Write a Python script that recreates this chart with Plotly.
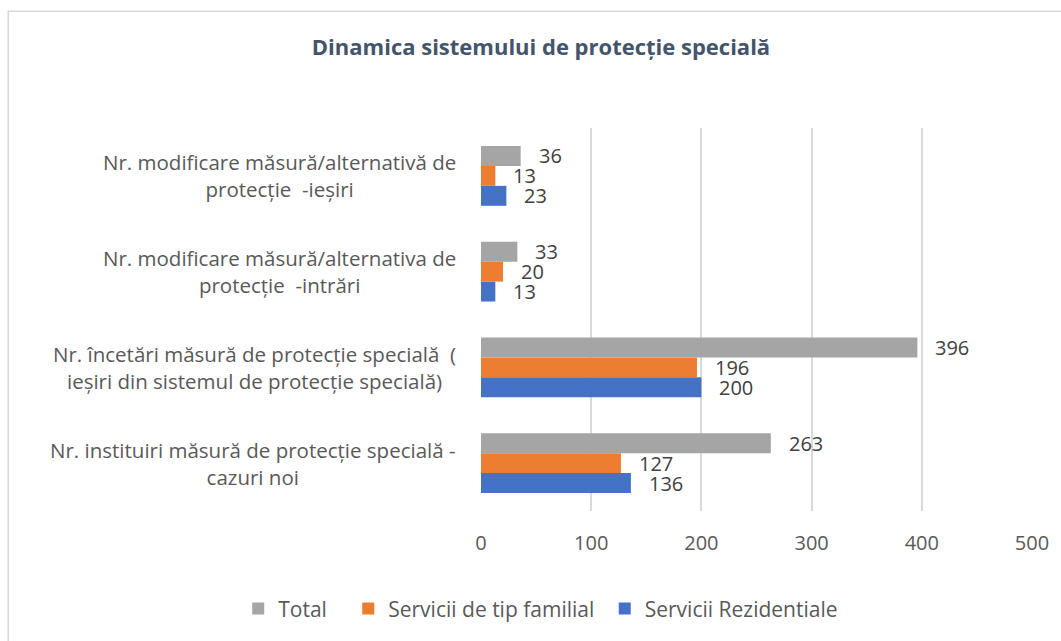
import plotly.graph_objects as go

categories = [
    "Nr. instituiri măsură de protecție specială -<br>cazuri noi",
    "Nr. încetări măsură de protecție specială  (<br>ieșiri din sistemul de protecție specială)",
    "Nr. modificare măsură/alternativa de<br>protecție  -intrări",
    "Nr. modificare măsură/alternativă de<br>protecție  -ieșiri",
]
cat_keys = ["instituiri", "incetari", "intrari", "iesiri"]

total = [263, 396, 33, 36]
familial = [127, 196, 20, 13]
rezidentiale = [136, 200, 13, 23]

x_ticks = [0, 100, 200, 300, 400, 500]

FONT = "Open Sans"
TXT = "#595959"
LBL = "#404040"
FS = 20
NB = "\u00a0"

fig = go.Figure()
# order: first trace drawn lowest in each group
series = [
    ("Servicii Rezidentiale", "Servicii Rezidentiale", rezidentiale, "#4472C4", -20),
    ("Servicii de tip familial", "Servicii de tip familial" + NB, familial, "#ED7D31", 0),
    ("Total", "Total" + NB * 3, total, "#A5A5A5", 20),
]
for name, legname, vals, color, _ in series:
    fig.add_trace(go.Bar(
        y=cat_keys, x=vals, name=legname, orientation="h",
        marker=dict(color=color, line=dict(width=0)),
        hovertemplate=name + ": %{x}<extra></extra>",
    ))

annotations = []
for name, legname, vals, color, shift in series:
    for k, v in zip(cat_keys, vals):
        annotations.append(dict(
            x=v, y=k, xref="x", yref="y", text=str(v), showarrow=False,
            xanchor="left", yanchor="middle", xshift=16, yshift=shift,
            font=dict(family=FONT, size=FS, color=LBL),
        ))

for k, lab in zip(cat_keys, categories):
    annotations.append(dict(
        x=(458 - 481) / 556, y=k, xref="paper", yref="y", text=lab, showarrow=False,
        xanchor="right", yanchor="middle", align="center",
        font=dict(family=FONT, size=20.5, color=TXT),
    ))

fig.update_layout(
    width=1061, height=641,
    margin=dict(l=481, r=24, t=128, b=129),
    paper_bgcolor="white", plot_bgcolor="white",
    barmode="group", bargap=0.375, bargroupgap=0,
    title=dict(
        text="<b>Dinamica sistemului de protecție specială</b>",
        x=541 / 1061, xref="container", xanchor="center",
        y=1 - 47 / 641, yref="container", yanchor="middle",
        font=dict(family=FONT, size=22, color="#44546A"),
    ),
    xaxis=dict(
        range=[0, 500], tickvals=x_ticks, ticktext=[str(t) for t in x_ticks],
        showgrid=True, gridcolor="#D9D9D9", gridwidth=1.5,
        zeroline=False, showline=False, ticks="",
        ticklabelstandoff=18,
        tickfont=dict(family=FONT, size=FS, color=TXT),
    ),
    yaxis=dict(
        categoryorder="array", categoryarray=cat_keys,
        showticklabels=False, showgrid=False, zeroline=False, showline=False,
        ticks="",
    ),
    legend=dict(
        orientation="h", traceorder="reversed",
        x=(236 - 481) / 556, xref="paper", xanchor="left",
        y=(512 - 610) / 384, yref="paper", yanchor="middle",
        font=dict(family=FONT, size=21, color=TXT),
        itemwidth=30,
    ),
    annotations=annotations,
    shapes=[dict(
        type="rect", xref="paper", yref="paper",
        x0=(4 - 481) / 556, x1=1.2, y0=-0.5, y1=(512 - 11) / 384,
        line=dict(color="#D9D9D9", width=1.5), fillcolor="rgba(0,0,0,0)",
        layer="below",
    )],
)

fig.write_html("out.html", config={"displayModeBar": False},
               post_script="document.body.style.margin='0';")
